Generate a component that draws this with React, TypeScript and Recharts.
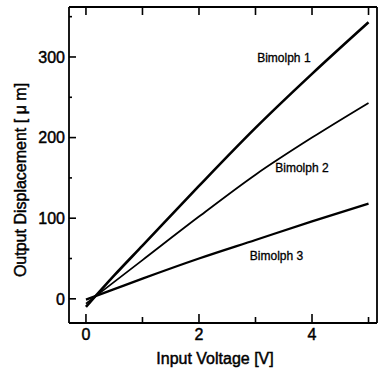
import { LineChart, Line, XAxis, YAxis, ReferenceDot } from 'recharts'

const voltage = [0, 0.5, 1, 2, 3, 4, 5]
const bimolph1 = [-10, 29, 66, 140, 212, 279, 343]
const bimolph2 = [-6, 21, 48, 102, 154, 200, 243]
const bimolph3 = [-1, 12, 25, 50, 73, 96, 118]

const xTicks = [0, 1, 2, 3, 4, 5]
const xLabels = [0, 2, 4]
const yTicks = [0, 50, 100, 150, 200, 250, 300, 350]
const yLabels = [0, 100, 200, 300]

const seriesLabels = [
    { text: 'Bimolph 1', x: 3.03, y: 294 },
    { text: 'Bimolph 2', x: 3.35, y: 157 },
    { text: 'Bimolph 3', x: 2.9, y: 48 },
]

const data = voltage.map((v, i) => ({
    v,
    b1: bimolph1[i],
    b2: bimolph2[i],
    b3: bimolph3[i],
}))

const font = '"Liberation Sans", Arial, Helvetica, sans-serif'
// scanned print looks heavier than plain regular weight
const heavy = { stroke: '#000', strokeWidth: 0.45 }

// ticks drawn by hand so they can point into the plot
const LeftTick = (props: any) => {
    const { x, y, payload } = props
    const major = yLabels.includes(payload.value)
    return (
        <g>
            <line x1={x} y1={y} x2={x + (major ? 7 : 3)} y2={y} stroke="#000" strokeWidth={1.6} />
            {major && (
                <text x={x - 4} y={y} dy="0.36em" textAnchor="end" fontSize={16} fontFamily={font} fill="#000" {...heavy}>
                    {payload.value}
                </text>
            )}
        </g>
    )
}

const RightTick = (props: any) => {
    const { x, y, payload } = props
    const major = yLabels.includes(payload.value)
    return <line x1={x} y1={y} x2={x - (major ? 7 : 3)} y2={y} stroke="#000" strokeWidth={1.6} />
}

const BottomTick = (props: any) => {
    const { x, y, payload } = props
    const major = xLabels.includes(payload.value)
    return (
        <g>
            <line x1={x} y1={y} x2={x} y2={y - (major ? 9 : 6)} stroke="#000" strokeWidth={1.6} />
            {major && (
                <text x={x} y={y + 5} dy="0.72em" textAnchor="middle" fontSize={16} fontFamily={font} fill="#000" {...heavy}>
                    {payload.value}
                </text>
            )}
        </g>
    )
}

const TopTick = (props: any) => {
    const { x, y } = props
    return <line x1={x} y1={y} x2={x} y2={y + 8} stroke="#000" strokeWidth={1.6} />
}

const axisStyle = { stroke: '#000', strokeWidth: 1.8 }

export default function App() {
    return (
        <div style={{ position: 'absolute', left: 0, top: 0, width: 381, height: 369 }}>
            <LineChart width={381} height={369} data={data} margin={{ top: 6, right: 3, left: 68, bottom: 45 }}>
                <XAxis
                    dataKey="v"
                    type="number"
                    domain={[-0.3, 5.15]}
                    ticks={xTicks}
                    interval={0}
                    height={1}
                    tickSize={0}
                    tickMargin={0}
                    tickLine={false}
                    axisLine={axisStyle}
                    tick={BottomTick}
                />
                <XAxis
                    xAxisId="top"
                    orientation="top"
                    dataKey="v"
                    type="number"
                    domain={[-0.3, 5.15]}
                    ticks={xTicks}
                    interval={0}
                    height={1}
                    tickSize={0}
                    tickMargin={0}
                    tickLine={false}
                    axisLine={axisStyle}
                    tick={TopTick}
                />
                <YAxis
                    type="number"
                    domain={[-30, 362]}
                    ticks={yTicks}
                    interval={0}
                    width={1}
                    tickSize={0}
                    tickMargin={0}
                    tickLine={false}
                    axisLine={axisStyle}
                    tick={LeftTick}
                />
                <YAxis
                    yAxisId="right"
                    orientation="right"
                    type="number"
                    domain={[-30, 362]}
                    ticks={yTicks}
                    interval={0}
                    width={1}
                    tickSize={0}
                    tickMargin={0}
                    tickLine={false}
                    axisLine={axisStyle}
                    tick={RightTick}
                />
                <Line type="monotone" dataKey="b1" stroke="#000" strokeWidth={2.6} dot={false} isAnimationActive={false} />
                <Line type="monotone" dataKey="b2" stroke="#000" strokeWidth={1.8} dot={false} isAnimationActive={false} />
                <Line type="monotone" dataKey="b3" stroke="#000" strokeWidth={2.3} dot={false} isAnimationActive={false} />
                {seriesLabels.map((l) => (
                    <ReferenceDot
                        key={l.text}
                        x={l.x}
                        y={l.y}
                        r={0}
                        fill="none"
                        stroke="none"
                        label={(p: any) => (
                            <text x={p.viewBox.x} y={p.viewBox.y} fontSize={12} fontFamily={font} fill="#000" stroke="#000" strokeWidth={0.3}>
                                {l.text}
                            </text>
                        )}
                    />
                ))}
            </LineChart>
            <svg width={381} height={369} style={{ position: 'absolute', left: 0, top: 0, pointerEvents: 'none' }}>
                <text x={215} y={364} textAnchor="middle" fontSize={16} fontFamily={font} fill="#000" {...heavy}>
                    Input Voltage [V]
                </text>
                <text
                    x={26}
                    y={180}
                    textAnchor="middle"
                    fontSize={16}
                    fontFamily={font}
                    fill="#000"
                    {...heavy}
                    transform="rotate(-90 26 180)"
                >
                    Output Displacement [ μ m]
                </text>
            </svg>
        </div>
    )
}
